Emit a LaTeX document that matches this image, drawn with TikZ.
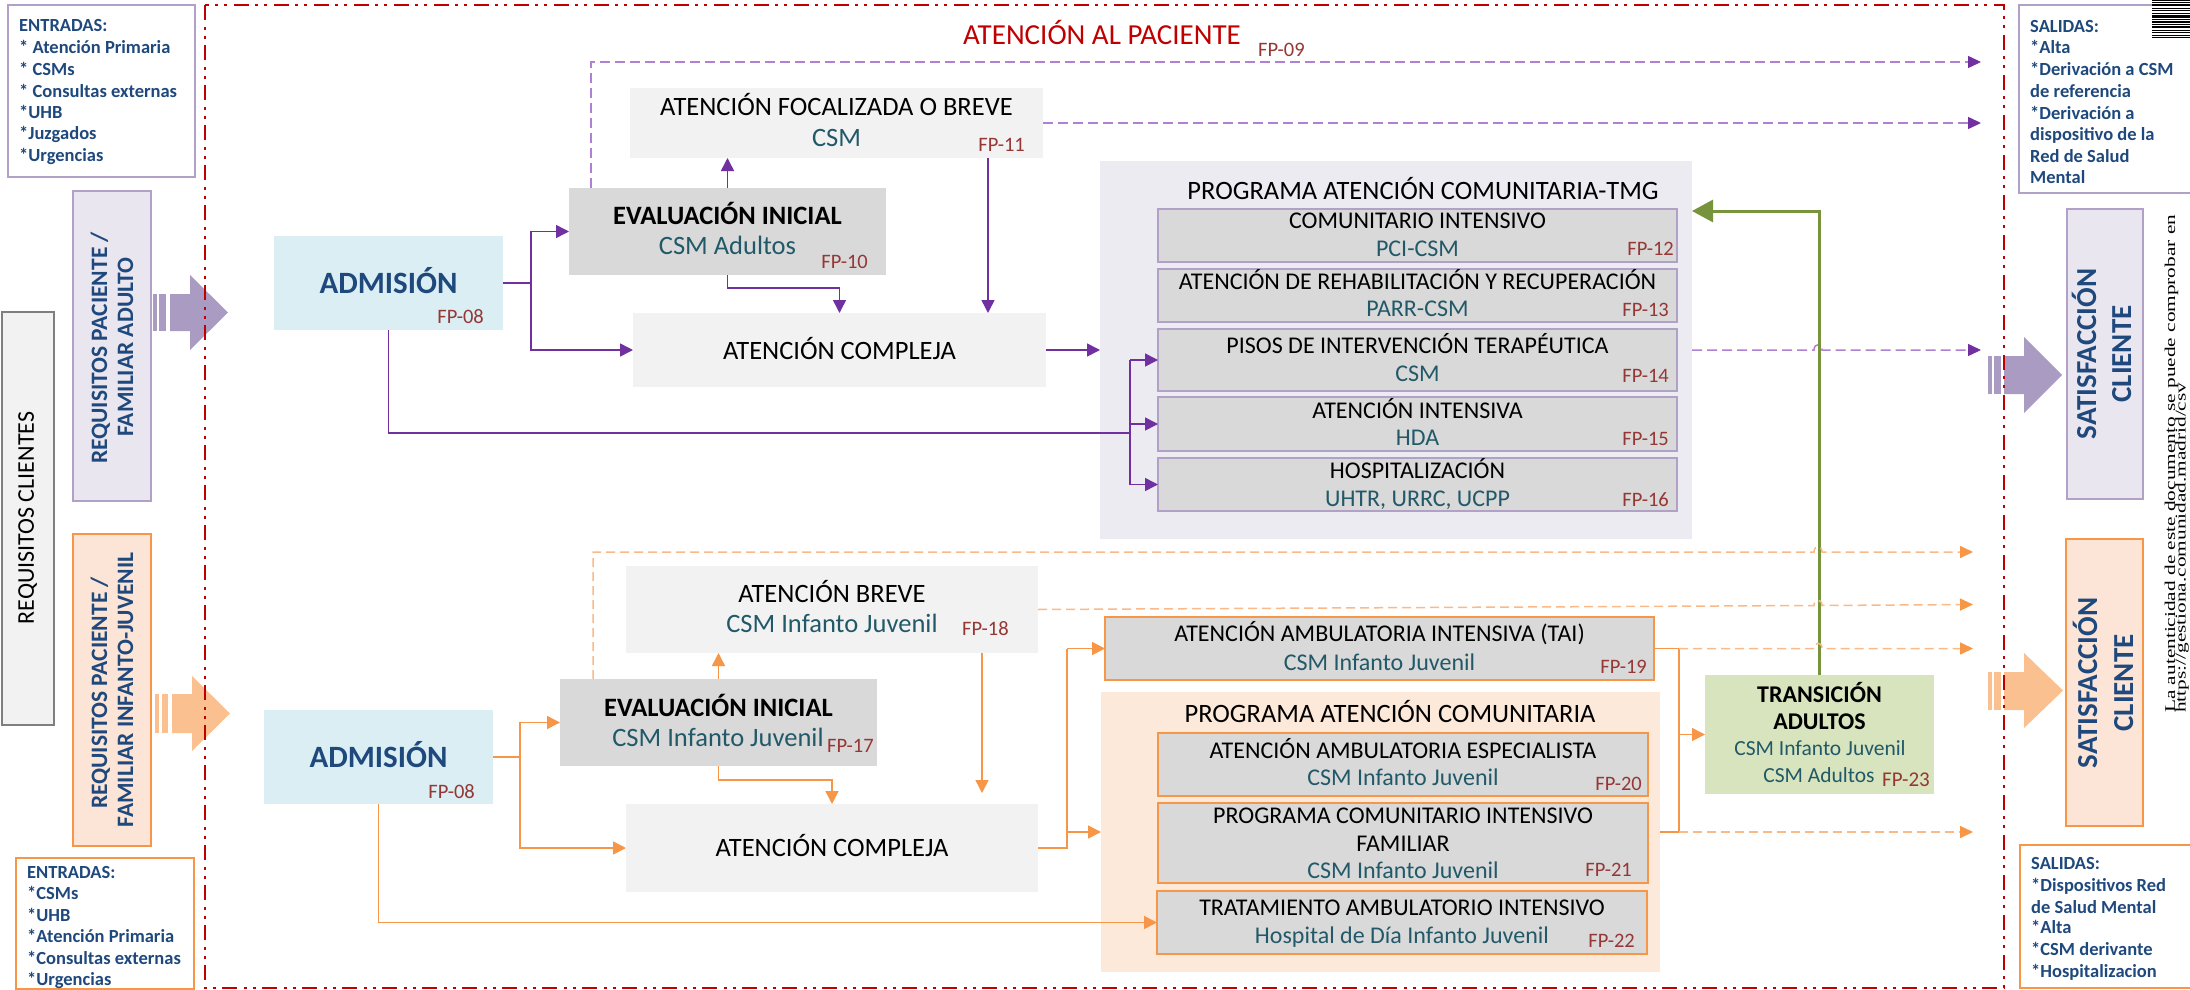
\documentclass[tikz,border=0pt]{standalone}
\usepackage{fontspec}
\usepackage{graphicx}
\setmainfont{Carlito}
\newfontfamily\wmfont{Liberation Serif}
\usetikzlibrary{arrows.meta}

\definecolor{dblue}{RGB}{31,73,125}
\definecolor{cteal}{RGB}{33,89,104}
\definecolor{fpred}{RGB}{149,55,53}
\definecolor{tred}{RGB}{192,0,0}
\definecolor{lav}{RGB}{178,161,199}
\definecolor{lavfill}{RGB}{234,230,240}
\definecolor{progfill}{RGB}{237,235,242}
\definecolor{blkpurp}{RGB}{170,155,195}
\definecolor{purp}{RGB}{112,48,160}
\definecolor{purpdash}{RGB}{176,128,210}
\definecolor{orng}{RGB}{247,150,70}
\definecolor{orngdash}{RGB}{250,185,135}
\definecolor{blkorng}{RGB}{250,192,144}
\definecolor{peach}{RGB}{252,229,214}
\definecolor{peachb}{RGB}{253,233,217}
\definecolor{admc}{RGB}{218,238,243}
\definecolor{ga}{RGB}{242,242,242}
\definecolor{gb}{RGB}{217,217,217}
\definecolor{gc}{RGB}{127,127,127}
\definecolor{grn}{RGB}{119,147,60}
\definecolor{grnfill}{RGB}{215,228,189}

\newcommand\fzM{\fontsize{26.5pt}{32pt}\selectfont}
\newcommand\fzS{\fontsize{24pt}{29pt}\selectfont}
\newcommand\fzFP{\fontsize{20.5pt}{24pt}\selectfont}
\newcommand\fzE{\fontsize{18.5pt}{22pt}\selectfont\bfseries}
\newcommand\fzR{\fontsize{23.5pt}{28pt}\selectfont\bfseries}
\newcommand\fzSat{\fontsize{29pt}{35pt}\selectfont\bfseries}
\newcommand\fzAdm{\fontsize{31pt}{37pt}\selectfont\bfseries}
\newcommand\fzT{\fontsize{29pt}{35pt}\selectfont}
\newcommand\fzTr{\fontsize{24pt}{29pt}\selectfont\bfseries}
\newcommand\fzTs{\fontsize{21.5pt}{26pt}\selectfont}
\newcommand\fzW{\fontsize{15pt}{15pt}\selectfont\wmfont}

\newcommand\mkbox[6]{%
  \pgfmathsetmacro\bw{#5-#3}\pgfmathsetmacro\bh{#6-#4}%
  \pgfmathsetmacro\bx{(#3+#5)/2}\pgfmathsetmacro\by{(#4+#6)/2}%
  \node[#1,inner sep=0pt,outer sep=0pt,minimum width=\bw pt,minimum height=\bh pt] (#2) at (\bx,\by) {};}

\begin{document}
\begin{tikzpicture}[x=1pt,y=-1pt,
  tM/.style={inner sep=0pt,anchor=base,font=\fzM},
  tMb/.style={inner sep=0pt,anchor=base,font=\fzM\bfseries},
  tS/.style={inner sep=0pt,anchor=base,font=\fzS},
  fpl/.style={inner sep=0pt,anchor=base east,font=\fzFP,text=fpred},
  fpr/.style={inner sep=0pt,anchor=base west,font=\fzFP,text=fpred},
  tE/.style={inner sep=0pt,anchor=base west,font=\fzE,text=dblue},
  tR/.style={inner sep=0pt,anchor=base,rotate=90,font=\fzR,text=dblue},
  tSat/.style={inner sep=0pt,anchor=base,rotate=90,font=\fzSat,text=dblue},
  tAdm/.style={inner sep=0pt,anchor=base,font=\fzAdm,text=dblue},
  pc/.style={draw=purp,line width=1.5pt,-{Triangle[length=13pt,width=13pt]}},
  pcl/.style={draw=purp,line width=1.5pt},
  pd/.style={draw=purpdash,line width=1.5pt,dash pattern=on 10pt off 5pt,-{Triangle[length=13pt,width=12pt,color=purp]}},
  oc/.style={draw=orng,line width=1.5pt,-{Triangle[length=13pt,width=13pt]}},
  ocl/.style={draw=orng,line width=1.5pt},
  od/.style={draw=orngdash,line width=1.5pt,dash pattern=on 9pt off 5pt,-{Triangle[length=13pt,width=12pt,color=orng]}},
  gl/.style={draw=grn,line width=3pt,-{Triangle[length=21pt,width=22pt]}},
  lavbox/.style={draw=lav,line width=2pt},
  orbox/.style={draw=orng,line width=2pt},
  subp/.style={fill=gb,draw=lav,line width=2pt},
  subo/.style={fill=gb,draw=orng,line width=2.5pt}
]
\useasboundingbox (0,0) rectangle (2190,990);
\clip (0,0) rectangle (2190,990);
\fill[white] (0,0) rectangle (2190,990);

% ---------- boxes ----------
\mkbox{fill=white,lavbox}{entA}{8}{5}{195}{177}
\mkbox{fill=ga,draw=gc,line width=2pt}{reqC}{1.5}{312}{54}{725}
\mkbox{fill=lavfill,lavbox}{reqA}{73}{191}{151}{501}
\mkbox{fill=peach,orbox}{reqI}{73}{534}{151}{846}
\mkbox{fill=white,orbox}{entI}{16}{858}{194}{989}
\mkbox{fill=admc}{admA}{274}{236}{503}{330}
\mkbox{fill=ga}{focA}{630}{88}{1043}{158}
\mkbox{fill=gb}{evalA}{569}{188}{886}{275}
\mkbox{fill=ga}{compA}{633}{313}{1046}{387}
\mkbox{fill=progfill}{progA}{1100}{161}{1692}{539}
\mkbox{subp}{sub12}{1158}{209}{1677}{262}
\mkbox{subp}{sub13}{1158}{269}{1677}{322}
\mkbox{subp}{sub14}{1158}{329}{1677}{391}
\mkbox{subp}{sub15}{1158}{397}{1677}{451}
\mkbox{subp}{sub16}{1158}{458}{1677}{511}
\mkbox{fill=white,lavbox}{salA}{2019}{5}{2200}{193}
\mkbox{fill=lavfill,lavbox}{satA}{2067}{209}{2143}{499}
\mkbox{fill=admc}{admI}{264}{710}{493}{804}
\mkbox{fill=ga}{brevI}{626}{566}{1038}{653}
\mkbox{fill=gb}{evalI}{560}{679}{877}{766}
\mkbox{fill=ga}{compI}{626}{804}{1038}{892}
\mkbox{subo}{taiI}{1105}{617}{1654}{680}
\mkbox{fill=peachb}{progI}{1101}{692}{1660}{972}
\mkbox{subo}{sub20}{1158}{733}{1648}{796}
\mkbox{subo}{sub21}{1158}{803}{1648}{883}
\mkbox{subo}{sub22}{1157}{891}{1647}{954}
\mkbox{fill=grnfill}{trans}{1705}{675}{1934}{794}
\mkbox{fill=peach,orbox}{satI}{2066}{539}{2143}{826}
\mkbox{fill=white,orbox}{salI}{2020}{845}{2200}{988}

% ---------- texts ----------
\node[inner sep=0pt,anchor=base west,font=\fzT,text=tred] (title) at (963,45) {ATENCIÓN AL PACIENTE};
\node[fpr] (fp09) at (1258,56.5) {FP-09};

\node[tE] (eA1) at (19,32) {ENTRADAS:};
\node[tE] (eA2) at (19,54) {* Atención Primaria};
\node[tE] (eA3) at (19,75) {* CSMs};
\node[tE] (eA4) at (19,97) {* Consultas externas};
\node[tE] (eA5) at (19,118) {*UHB};
\node[tE] (eA6) at (19,139) {*Juzgados};
\node[tE] (eA7) at (19,161) {*Urgencias};

\node[tE] (eI1) at (27,878) {ENTRADAS:};
\node[tE] (eI2) at (27,899.5) {*CSMs};
\node[tE] (eI3) at (27,921) {*UHB};
\node[tE] (eI4) at (27,942.5) {*Atención Primaria};
\node[tE] (eI5) at (27,964) {*Consultas externas};
\node[tE] (eI6) at (27,985.5) {*Urgencias};

\node[tE] (sA1) at (2030,33) {SALIDAS:};
\node[tE] (sA2) at (2030,54) {*Alta};
\node[tE] (sA3) at (2030,76) {*Derivación a CSM};
\node[tE] (sA4) at (2030,97) {de referencia};
\node[tE] (sA5) at (2030,119) {*Derivación a};
\node[tE] (sA6) at (2030,140) {dispositivo de la};
\node[tE] (sA7) at (2030,162) {Red de Salud};
\node[tE] (sA8) at (2030,183) {Mental};

\node[tE] (sI1) at (2031,869) {SALIDAS:};
\node[tE] (sI2) at (2031,891) {*Dispositivos Red};
\node[tE] (sI3) at (2031,913) {de Salud Mental};
\node[tE] (sI4) at (2031,933) {*Alta};
\node[tE] (sI5) at (2031,955) {*CSM derivante};
\node[tE] (sI6) at (2031,977) {*Hospitalizacion};

\node[inner sep=0pt,anchor=base,rotate=90,font=\fzS] (reqCt) at (34,518) {REQUISITOS CLIENTES};
\node[tR] (reqA1) at (107,348) {REQUISITOS PACIENTE /};
\node[tR] (reqA2) at (133,347) {FAMILIAR ADULTO};
\node[tR] (reqI1) at (107,693) {REQUISITOS PACIENTE /};
\node[tR] (reqI2) at (133,690) {FAMILIAR INFANTO-JUVENIL};

\node[tSat] (satA1) at (2096,354) {SATISFACCIÓN};
\node[tSat] (satA2) at (2131,354) {CLIENTE};
\node[tSat] (satI1) at (2097,683) {SATISFACCIÓN};
\node[tSat] (satI2) at (2133,683) {CLIENTE};

\node[tAdm] (admA1) at (388.5,293) {ADMISIÓN};
\node[fpl] (admA2) at (484,323) {FP-08};
\node[tAdm] (admI1) at (378.5,767) {ADMISIÓN};
\node[fpl] (admI2) at (475,798) {FP-08};

\node[tM] (focA1) at (836.5,115) {ATENCIÓN FOCALIZADA O BREVE};
\node[tM,text=cteal] (focA2) at (836.5,146) {CSM};
\node[fpl] (focA3) at (1025,151) {FP-11};
\node[tMb] (evalA1) at (727.5,224) {EVALUACIÓN INICIAL};
\node[tM,text=cteal] (evalA2) at (727.5,254) {CSM Adultos};
\node[fpl] (evalA3) at (868,268) {FP-10};
\node[tM] (compA1) at (839.5,359) {ATENCIÓN COMPLEJA};
\node[tM] (progA1) at (1423,199) {PROGRAMA ATENCIÓN COMUNITARIA-TMG};

\node[tS] (s12a) at (1417.5,228) {COMUNITARIO INTENSIVO};
\node[tS,text=cteal] (s12b) at (1417.5,256) {PCI-CSM};
\node[fpl] (s12c) at (1674,255) {FP-12};
\node[tS] (s13a) at (1417.5,289) {ATENCIÓN DE REHABILITACIÓN Y RECUPERACIÓN};
\node[tS,text=cteal] (s13b) at (1417.5,316) {PARR-CSM};
\node[fpl] (s13c) at (1669,316) {FP-13};
\node[tS] (s14a) at (1417.5,353) {PISOS DE INTERVENCIÓN TERAPÉUTICA};
\node[tS,text=cteal] (s14b) at (1417.5,381) {CSM};
\node[fpl] (s14c) at (1669,382) {FP-14};
\node[tS] (s15a) at (1417.5,418) {ATENCIÓN INTENSIVA};
\node[tS,text=cteal] (s15b) at (1417.5,445) {HDA};
\node[fpl] (s15c) at (1669,445) {FP-15};
\node[tS] (s16a) at (1417.5,478) {HOSPITALIZACIÓN};
\node[tS,text=cteal] (s16b) at (1417.5,506) {UHTR, URRC, UCPP};
\node[fpl] (s16c) at (1669,506) {FP-16};

\node[tM] (brevI1) at (832,602) {ATENCIÓN BREVE};
\node[tM,text=cteal] (brevI2) at (832,632) {CSM Infanto Juvenil};
\node[fpr] (brevI3) at (962,635) {FP-18};
\node[tMb] (evalI1) at (718.5,716) {EVALUACIÓN INICIAL};
\node[tM,text=cteal] (evalI2) at (718,746) {CSM Infanto Juvenil};
\node[fpr] (evalI3) at (827,752) {FP-17};
\node[tM] (compI1) at (832,856) {ATENCIÓN COMPLEJA};

\node[tS] (tai1) at (1379.5,641) {ATENCIÓN AMBULATORIA INTENSIVA (TAI)};
\node[tS,text=cteal] (tai2) at (1379.5,670) {CSM Infanto Juvenil};
\node[fpl] (tai3) at (1647,673) {FP-19};
\node[tM] (progI1) at (1390,722) {PROGRAMA ATENCIÓN COMUNITARIA};
\node[tS] (s20a) at (1403,758) {ATENCIÓN AMBULATORIA ESPECIALISTA};
\node[tS,text=cteal] (s20b) at (1403,785) {CSM Infanto Juvenil};
\node[fpl] (s20c) at (1642,790) {FP-20};
\node[tS] (s21a) at (1403,823) {PROGRAMA COMUNITARIO INTENSIVO};
\node[tS] (s21b) at (1403,851) {FAMILIAR};
\node[tS,text=cteal] (s21c) at (1403,878) {CSM Infanto Juvenil};
\node[fpl] (s21d) at (1632,876) {FP-21};
\node[tS] (s22a) at (1402,915) {TRATAMIENTO AMBULATORIO INTENSIVO};
\node[tS,text=cteal] (s22b) at (1402,943) {Hospital de Día Infanto Juvenil};
\node[fpl] (s22c) at (1635,947) {FP-22};

\node[inner sep=0pt,anchor=base,font=\fzTr] (tr1) at (1819.5,702) {TRANSICIÓN};
\node[inner sep=0pt,anchor=base,font=\fzTr] (tr2) at (1819.5,729) {ADULTOS};
\node[inner sep=0pt,anchor=base,font=\fzTs,text=cteal] (tr3) at (1820,755) {CSM Infanto Juvenil};
\node[inner sep=0pt,anchor=base,font=\fzTs,text=cteal] (tr4) at (1819,782) {CSM Adultos};
\node[inner sep=0pt,anchor=base west,font=\fontsize{21pt}{25pt}\selectfont,text=fpred] (tr5) at (1882,786) {FP-23};

% ---------- coordinates ----------
\coordinate (jA) at (531,283);
\coordinate (jB) at (1130,433);
\coordinate (cE) at (988,0);
\coordinate (cH) at (591,62);
\coordinate (oP) at (1981,0);
\coordinate (gT) at (0,211);
\coordinate (jC) at (520,757);
\coordinate (cN) at (982,0);
\coordinate (jD) at (1067,848);
\coordinate (jE) at (1679,0);
\coordinate (cR) at (593,552);
\coordinate (oO) at (1973,0);

% ---------- purple connectors ----------
\draw[pcl] (admA.east) -- (jA);
\draw[pc] (jA) |- (evalA.west);
\draw[pc] (jA) |- (compA.west);
\draw[pc] (evalA.north) -- (evalA.north |- focA.south);
\draw[pc] (evalA.south) -- ++(0,13) -| (compA.north);
\draw[pc] (focA.south -| cE) -- (compA.north -| cE);
\draw[pc] (compA.east) -- (progA.west |- compA.east);
\draw[pcl] (admA.south) |- (jB);
\draw[pcl] (jB |- sub14.west) -- (jB |- sub16.west);
\draw[pc] (jB |- sub14.west) -- (sub14.west);
\draw[pc] (jB |- sub15.west) -- (sub15.west);
\draw[pc] (jB |- sub16.west) -- (sub16.west);
\draw[pd] (evalA.north -| cH) -- (cH) -- (oP |- cH);
\draw[pd] (focA.east) -- (oP |- focA.east);
\draw[pd] (progA.east |- compA.east) -- (1814,350) .. controls (1814,343) and (1822,343) .. (1822,350) -- (oP |- compA.east);

% ---------- green ----------
\draw[gl] (trans.north) |- (progA.east |- gT);

% ---------- orange connectors ----------
\draw[ocl] (admI.east) -- (jC);
\draw[oc] (jC) |- (evalI.west);
\draw[oc] (jC) |- (compI.west);
\draw[oc] (evalI.north) -- (evalI.north |- brevI.south);
\draw[oc] (evalI.south) -- ++(0,14) -| (compI.north);
\draw[oc,shorten >=11pt] (brevI.south -| cN) -- (compI.north -| cN);
\draw[oc] (admI.south) |- (sub22.west);
\draw[ocl] (compI.east) -- (jD) -- (jD |- taiI.west);
\draw[oc] (jD |- taiI.west) -- (taiI.west);
\draw[oc] (jD |- progI.west) -- (progI.west);
\draw[ocl] (taiI.east) -- (jE |- taiI.east) -- (jE |- progI.east) -- (progI.east);
\draw[oc] (jE |- trans.west) -- (trans.west);
\draw[od] (evalI.north -| cR) -- (cR) -- (1814,552) .. controls (1814,545) and (1822,545) .. (1822,552) -- (oO |- cR);
\draw[od] (brevI.east) -- (1814,605.5) .. controls (1814,598.5) and (1822,598.5) .. (1822,605.5) -- (1973,604.5);
\draw[od] (jE |- taiI.east) -- (1814,648.5) .. controls (1814,641.5) and (1822,641.5) .. (1822,648.5) -- (oO |- taiI.east);
\draw[od] (jE |- progI.east) -- (oO |- progI.east);

% ---------- block arrows ----------
\fill[blkpurp] (153,294) rectangle (157,331);
\fill[blkpurp] (159,294) rectangle (166,331);
\fill[blkpurp] (170,294) -- (190,294) -- (190,275) -- (228,312.5) -- (190,350) -- (190,331) -- (170,331) -- cycle;
\fill[blkorng] (155,694) rectangle (159,733);
\fill[blkorng] (162,694) rectangle (168,733);
\fill[blkorng] (172,694) -- (192,694) -- (192,676) -- (230,713.5) -- (192,751) -- (192,733) -- (172,733) -- cycle;
\fill[blkpurp] (1988,356) rectangle (1992,394);
\fill[blkpurp] (1994,356) rectangle (2001,394);
\fill[blkpurp] (2004,356) -- (2024,356) -- (2024,337) -- (2062,375) -- (2024,413) -- (2024,394) -- (2004,394) -- cycle;
\fill[blkorng] (1988,672) rectangle (1992,710);
\fill[blkorng] (1994,672) rectangle (2001,710);
\fill[blkorng] (2004,672) -- (2024,672) -- (2024,653) -- (2063,690.5) -- (2024,728) -- (2024,710) -- (2004,710) -- cycle;

% ---------- frame ----------
\draw[tred,line width=2.5pt,dash pattern=on 15pt off 7pt on 3pt off 6pt on 3pt off 6pt] (205,5) rectangle (2004,988);

% ---------- watermark ----------
\node[inner sep=0pt,anchor=base west,rotate=90] (wm1) at (2175,713) {\fzW\scalebox{1.42}[1]{La autenticidad de este documento se puede comprobar en}};
\node[inner sep=0pt,anchor=base west,rotate=90] (wm2) at (2185.5,713) {\fzW\scalebox{1.42}[1]{https://gestiona.comunidad.madrid/csv}};
\foreach \yy/\hh in {0/1.5,2.5/1,4.5/2,8/1,10/1.5,13/1,15.5/2.5,19.5/1,21.5/1.5,24.5/1,26.5/2,30/1,32/1.5,35/1,37/1}
  {\fill[black] (2152,\yy) rectangle (2190,\yy+\hh);}
\end{tikzpicture}
\end{document}
